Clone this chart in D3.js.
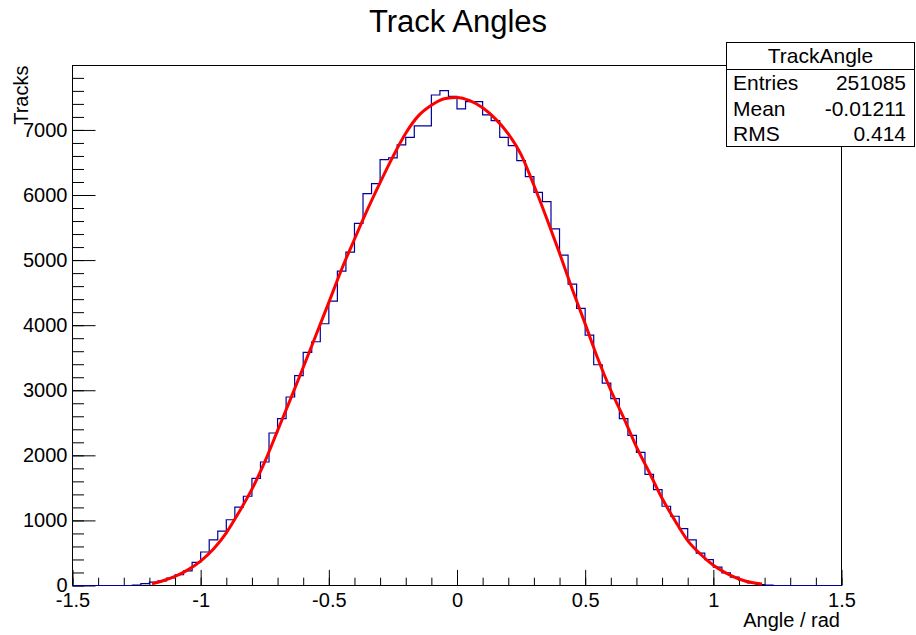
<!DOCTYPE html>
<html>
<head>
<meta charset="utf-8">
<script src="https://cdn.jsdelivr.net/npm/d3@7"></script>
<style>
  body { margin: 0; background: #fff; }
  text { font-family: "Liberation Sans", Arial, Helvetica, sans-serif; fill: #000; }
</style>
</head>
<body>
<div id="vis"></div>
<script>
// data
const TITLE = "Track Angles";
const HIST_NAME = "TrackAngle";
const X_LABEL = "Angle / rad";
const Y_LABEL = "Tracks";

const BIN_RANGE = [-1.5, 1.5];
const BIN_COUNTS = [
  0, 0, 0, 0, 0, 0, 0, 8, 28, 52,
  70, 115, 165, 225, 355, 515, 700, 834, 1010, 1205,
  1371, 1647, 1898, 2343, 2563, 2896, 3224, 3582, 3745, 4022,
  4370, 4830, 5122, 5565, 6022, 6176, 6545, 6572, 6769, 6887,
  7061, 7061, 7537, 7603, 7516, 7322, 7435, 7435, 7230, 7143,
  6887, 6759, 6529, 6283, 6040, 5897, 5480, 5076, 4631, 4257,
  3848, 3392, 3111, 2870, 2563, 2308, 2047, 1709, 1474, 1218,
  1064, 875, 701, 496, 399, 281, 194, 128, 77, 41,
  15, 5, 0, 0, 0, 0, 0, 0, 0, 0
];

const FIT_X = [-1.19, -1.15, -1.1, -1.05, -1.0, -0.95, -0.9, -0.85, -0.8, -0.75,
  -0.7, -0.65, -0.6, -0.55, -0.5, -0.45, -0.4, -0.35, -0.3, -0.25,
  -0.2, -0.15, -0.1, -0.05, 0, 0.05, 0.1, 0.15, 0.2, 0.25,
  0.3, 0.35, 0.4, 0.45, 0.5, 0.55, 0.6, 0.65, 0.7, 0.75,
  0.8, 0.85, 0.9, 0.95, 1.0, 1.05, 1.1, 1.15, 1.19];
const FIT_Y = [28, 70, 140, 240, 375, 560, 810, 1130, 1480, 1900,
  2380, 2860, 3350, 3850, 4350, 4860, 5320, 5770, 6190, 6590,
  6950, 7220, 7380, 7480, 7500, 7450, 7340, 7170, 6940, 6620,
  6150, 5640, 5107, 4550, 4020, 3480, 3000, 2580, 2130, 1740,
  1340, 1000, 690, 480, 310, 190, 100, 45, 22];

const X_TICKS = [-1.5, -1, -0.5, 0, 0.5, 1, 1.5];
const X_TICK_LABELS = ["-1.5", "-1", "-0.5", "0", "0.5", "1", "1.5"];
const Y_TICKS = [0, 1000, 2000, 3000, 4000, 5000, 6000, 7000];

const STATS_LABELS = ["Entries", "Mean", "RMS"];
const STATS_VALUES = ["251085", "-0.01211", "0.414"];

// frame geometry
const FRAME_WIDTH = 916;
const FRAME_HEIGHT = 635;
const PLOT = {left: 72.5, right: 841.5, top: 65.5, bottom: 585.5};
const Y_MAX = 7990;

const SVG = d3.select("#vis")
  .append("svg")
    .attr("width", FRAME_WIDTH)
    .attr("height", FRAME_HEIGHT);

const X_SCALE = d3.scaleLinear()
  .domain(BIN_RANGE)
  .range([PLOT.left, PLOT.right]);

const Y_SCALE = d3.scaleLinear()
  .domain([0, Y_MAX])
  .range([PLOT.bottom, PLOT.top]);

// title
SVG.append("text")
  .attr("x", 458)
  .attr("y", 32)
  .attr("text-anchor", "middle")
  .attr("font-size", "31px")
  .text(TITLE);

// minor ticks first, then major ticks with labels
const xMinor = d3.range(-15, 16).map((i) => i / 10);
const yMinor = d3.range(0, 40).map((i) => i * 200);

SVG.append("g")
  .attr("transform", "translate(0," + PLOT.bottom + ")")
  .call(d3.axisBottom(X_SCALE).tickValues(xMinor).tickSizeInner(-7.8).tickSizeOuter(0).tickFormat(""))
  .call((g) => g.select(".domain").remove());

SVG.append("g")
  .attr("transform", "translate(0," + PLOT.bottom + ")")
  .call(d3.axisBottom(X_SCALE)
    .tickValues(X_TICKS)
    .tickSizeInner(-15.6)
    .tickSizeOuter(0)
    .tickPadding(7)
    .tickFormat((d, i) => X_TICK_LABELS[i]))
  .attr("font-size", "20px")
  .attr("font-family", null)
  .call((g) => g.select(".domain").remove());

SVG.append("g")
  .attr("transform", "translate(" + PLOT.left + ",0)")
  .call(d3.axisLeft(Y_SCALE).tickValues(yMinor).tickSizeInner(-11.5).tickSizeOuter(0).tickFormat(""))
  .call((g) => g.select(".domain").remove());

SVG.append("g")
  .attr("transform", "translate(" + PLOT.left + ",0)")
  .call(d3.axisLeft(Y_SCALE)
    .tickValues(Y_TICKS)
    .tickSizeInner(-23)
    .tickSizeOuter(0)
    .tickPadding(5)
    .tickFormat(d3.format("d")))
  .attr("font-size", "20px")
  .attr("font-family", null)
  .call((g) => g.select(".domain").remove());

// frame
SVG.append("rect")
  .attr("x", PLOT.left)
  .attr("y", PLOT.top)
  .attr("width", PLOT.right - PLOT.left)
  .attr("height", PLOT.bottom - PLOT.top)
  .attr("fill", "none")
  .attr("stroke", "#000")
  .attr("stroke-width", 1);

// histogram outline
const binWidth = (BIN_RANGE[1] - BIN_RANGE[0]) / BIN_COUNTS.length;
const steps = [{x: BIN_RANGE[0], v: 0}];
BIN_COUNTS.forEach((v, i) => steps.push({x: BIN_RANGE[0] + i * binWidth, v: v}));
steps.push({x: BIN_RANGE[1], v: BIN_COUNTS[BIN_COUNTS.length - 1]});
steps.push({x: BIN_RANGE[1], v: 0});

const histLine = d3.line()
  .x((d) => X_SCALE(d.x))
  .y((d) => Y_SCALE(d.v))
  .curve(d3.curveStepAfter);

SVG.append("path")
  .datum(steps)
  .attr("d", histLine)
  .attr("fill", "none")
  .attr("stroke", "#00009a")
  .attr("stroke-width", 1.2);

// fit curve
const fitLine = d3.line()
  .x((d, i) => X_SCALE(FIT_X[i]))
  .y((d) => Y_SCALE(d))
  .curve(d3.curveMonotoneX);

SVG.append("path")
  .datum(FIT_Y)
  .attr("d", fitLine)
  .attr("fill", "none")
  .attr("stroke", "#ff0000")
  .attr("stroke-width", 3);

// axis titles
SVG.append("text")
  .attr("x", 840)
  .attr("y", 627)
  .attr("text-anchor", "end")
  .attr("font-size", "20px")
  .text(X_LABEL);

SVG.append("text")
  .attr("transform", "translate(28," + PLOT.top + ") rotate(-90)")
  .attr("text-anchor", "end")
  .attr("font-size", "20px")
  .text(Y_LABEL);

// stats box
const STATS = {left: 726.5, right: 914.5, top: 42.5, header: 69.5, bottom: 146.5};
const statsG = SVG.append("g");

statsG.append("rect")
  .attr("x", STATS.left)
  .attr("y", STATS.top)
  .attr("width", STATS.right - STATS.left)
  .attr("height", STATS.bottom - STATS.top)
  .attr("fill", "#fff")
  .attr("stroke", "#000");

statsG.append("line")
  .attr("x1", STATS.left).attr("x2", STATS.right)
  .attr("y1", STATS.header).attr("y2", STATS.header)
  .attr("stroke", "#000");

statsG.append("text")
  .attr("x", (STATS.left + STATS.right) / 2)
  .attr("y", 63)
  .attr("text-anchor", "middle")
  .attr("font-size", "21px")
  .text(HIST_NAME);

const ROW_Y = [90, 116, 141];
statsG.selectAll(".stat-label")
  .data(STATS_LABELS)
  .enter()
  .append("text")
    .attr("class", "stat-label")
    .attr("x", 733)
    .attr("y", (d, i) => ROW_Y[i])
    .attr("font-size", "21px")
    .text((d) => d);

statsG.selectAll(".stat-value")
  .data(STATS_VALUES)
  .enter()
  .append("text")
    .attr("class", "stat-value")
    .attr("x", 906)
    .attr("y", (d, i) => ROW_Y[i])
    .attr("text-anchor", "end")
    .attr("font-size", "21px")
    .text((d) => d);
</script>
</body>
</html>
